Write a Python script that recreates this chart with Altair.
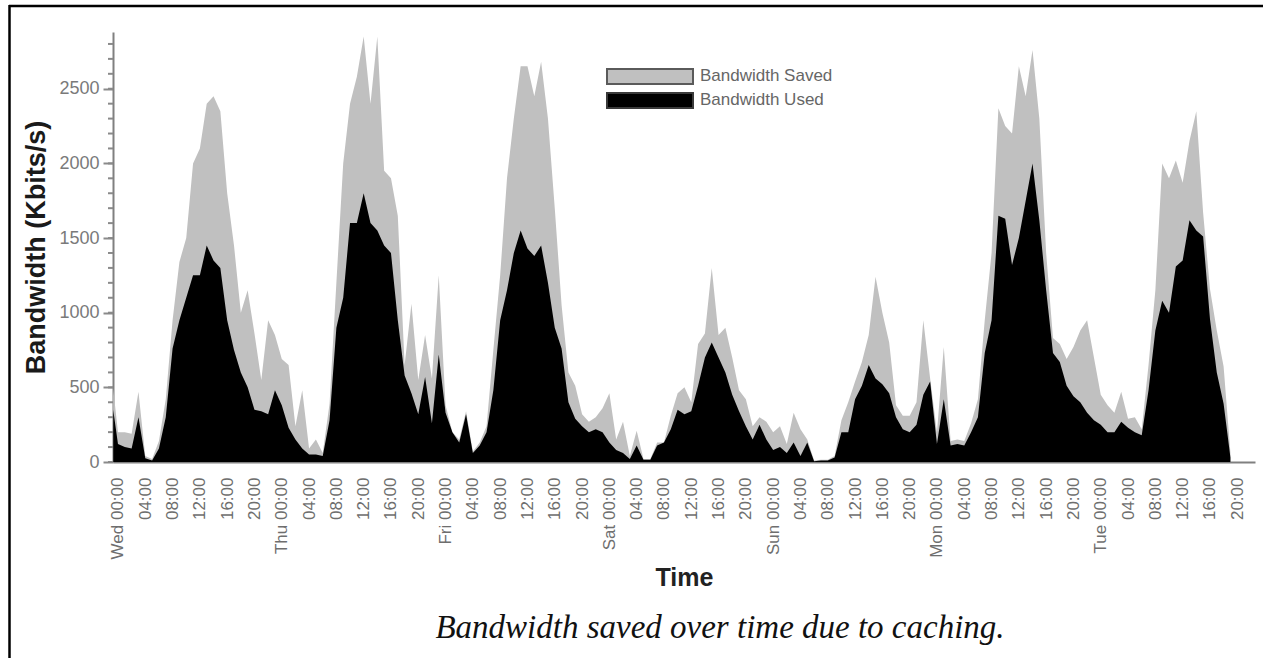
import json
import pandas as pd
import altair as alt

# ---- data (hours since Wed 00:00, Kbits/s) ----
hours = [-0.7] + list(range(0, 164))

total_kbps = [490,
    200, 200, 190, 470, 40, 20, 140, 420, 950, 1340, 1500, 2000, 2100, 2400, 2450, 2350,
    1800, 1450, 1000, 1150, 860, 550, 950, 850,
    690, 650, 240, 480, 90, 150, 60, 390, 1200, 2000, 2400, 2580, 2850, 2400, 2850, 1950,
    1900, 1650, 650, 1060, 550, 850, 560, 1250,
    380, 200, 150, 340, 70, 130, 240, 750, 1250, 1900, 2300, 2650, 2650, 2450, 2680, 2300,
    1700, 1050, 600, 510, 320, 270, 300, 360,
    460, 150, 270, 40, 210, 20, 20, 130, 130, 310, 460, 500, 400, 790, 860, 1300,
    850, 900, 700, 480, 420, 240, 300, 270,
    200, 240, 120, 330, 220, 150, 10, 15, 15, 40, 280, 400, 540, 670, 850, 1240,
    1000, 800, 380, 310, 310, 400, 950, 560,
    200, 770, 140, 150, 140, 260, 420, 950, 1400, 2370, 2250, 2200, 2650, 2450, 2760, 2300,
    1400, 830, 790, 690, 770, 880, 950, 700,
    450, 380, 330, 470, 290, 300, 220, 650, 1150, 2000, 1900, 2020, 1870, 2150, 2350, 1670,
    1160, 880, 640, 60]

used_kbps = [350,
    120, 100, 90, 300, 25, 10, 90, 300, 760, 950, 1100, 1250, 1250, 1450, 1350, 1300,
    950, 750, 600, 500, 350, 340, 320, 480,
    380, 230, 150, 90, 50, 50, 40, 280, 900, 1100, 1600, 1600, 1800, 1600, 1550, 1450,
    1400, 950, 580, 460, 320, 570, 260, 720,
    330, 200, 130, 320, 60, 110, 200, 480, 950, 1150, 1400, 1550, 1430, 1380, 1450, 1200,
    900, 760, 400, 290, 240, 200, 220, 200,
    130, 80, 60, 20, 110, 15, 15, 110, 130, 220, 350, 320, 340, 510, 700, 800,
    700, 600, 450, 340, 240, 150, 250, 150,
    80, 100, 60, 130, 40, 130, 5, 10, 10, 30, 200, 200, 420, 510, 650, 560,
    520, 460, 300, 220, 200, 250, 450, 540,
    120, 420, 110, 120, 110, 200, 300, 730, 950, 1650, 1630, 1320, 1500, 1750, 2000, 1620,
    1150, 730, 670, 510, 440, 400, 330, 280,
    250, 200, 200, 270, 230, 200, 180, 480, 880, 1080, 1000, 1310, 1350, 1620, 1550, 1510,
    960, 600, 390, 30]

tick_hours = list(range(0, 165, 4))
tick_labels = [
    "Wed 00:00", "04:00", "08:00", "12:00", "16:00", "20:00",
    "Thu 00:00", "04:00", "08:00", "12:00", "16:00", "20:00",
    "Fri 00:00", "04:00", "08:00", "12:00", "16:00", "20:00",
    "Sat 00:00", "04:00", "08:00", "12:00", "16:00", "20:00",
    "Sun 00:00", "04:00", "08:00", "12:00", "16:00", "20:00",
    "Mon 00:00", "04:00", "08:00", "12:00", "16:00", "20:00",
    "Tue 00:00", "04:00", "08:00", "12:00", "16:00", "20:00",
]
y_major = [0, 500, 1000, 1500, 2000, 2500]
y_minor = list(range(0, 2900, 100))

legend_labels = ["Bandwidth Saved", "Bandwidth Used"]
caption = "Bandwidth saved over time due to caching."

# ---- tables ----
df = pd.DataFrame({"hour": hours, "total": total_kbps, "used": used_kbps})
minor_df = pd.DataFrame({"v": y_minor})
one = pd.DataFrame({"k": [0]})

W, H = 1142, 430
x_scale = alt.Scale(domain=[-0.73, 166.6], nice=False, zero=False)
y_scale = alt.Scale(domain=[0, 2880], nice=False)

x_axis = alt.Axis(
    values=tick_hours,
    labelExpr=f"{json.dumps(tick_labels)}[round(datum.value/4)]",
    labelAngle=270, labelFontSize=17, labelFont="Liberation Sans",
    labelColor="#6e6e6e", labelPadding=15, labelOverlap=False, labelFlush=False,
    ticks=False, grid=False, domainColor="#808080", domainWidth=2,
    title="Time", titleFontSize=25, titleFont="Liberation Sans",
    titleFontWeight="bold", titleColor="#222", titlePadding=7,
)
y_axis = alt.Axis(
    values=y_major, format="d", tickSize=10, tickColor="#8a8a8a", tickWidth=2,
    labelFontSize=18, labelFont="Liberation Sans", labelColor="#7a7a7a", labelPadding=4,
    grid=False, domainColor="#808080", domainWidth=2,
    title="Bandwidth (Kbits/s)", titleFontSize=27, titleFont="Liberation Sans",
    titleFontWeight="bold", titleColor="#1a1a1a", titlePadding=8,
)

base = alt.Chart(df)
saved_area = base.mark_area(color="#c0c0c0", interpolate="linear").encode(
    x=alt.X("hour:Q", scale=x_scale, axis=x_axis),
    y=alt.Y("total:Q", scale=y_scale, axis=y_axis),
)
used_area = base.mark_area(color="#000000", interpolate="linear").encode(
    x=alt.X("hour:Q", scale=x_scale, axis=x_axis),
    y=alt.Y("used:Q", scale=y_scale, axis=y_axis),
)
minor_ticks = alt.Chart(minor_df).mark_rule(color="#8a8a8a", strokeWidth=2).encode(
    y=alt.Y("v:Q", scale=y_scale, axis=y_axis),
    x=alt.value(-5), x2=alt.value(0),
)

# legend (drawn as marks)
leg_saved = alt.Chart(one).mark_rect(fill="#c0c0c0", stroke="#5a5a5a", strokeWidth=2).encode(
    x=alt.value(494), x2=alt.value(580), y=alt.value(37), y2=alt.value(52))
leg_used = alt.Chart(one).mark_rect(fill="#000000", stroke="#3a3a3a", strokeWidth=2).encode(
    x=alt.value(494), x2=alt.value(580), y=alt.value(61), y2=alt.value(76))
leg_text1 = alt.Chart(one).mark_text(
    text=legend_labels[0], align="left", baseline="middle", fontSize=17,
    font="Liberation Sans", color="#666").encode(x=alt.value(587), y=alt.value(44))
leg_text2 = alt.Chart(one).mark_text(
    text=legend_labels[1], align="left", baseline="middle", fontSize=17,
    font="Liberation Sans", color="#666").encode(x=alt.value(587), y=alt.value(68))

cap = alt.Chart(one).mark_text(
    text=caption, align="center", baseline="alphabetic", fontSize=33,
    font="Liberation Serif", fontStyle="italic", color="#111").encode(
    x=alt.value(607), y=alt.value(606))

# page frame
frame_top = alt.Chart(one).mark_rule(color="#000", strokeWidth=2.5).encode(
    x=alt.value(-104), x2=alt.value(1150), y=alt.value(-26))
frame_left = alt.Chart(one).mark_rule(color="#000", strokeWidth=2.5).encode(
    x=alt.value(-103.5), y=alt.value(-27), y2=alt.value(626))

chart = alt.layer(
    saved_area, used_area, minor_ticks, leg_saved, leg_used, leg_text1, leg_text2,
    cap, frame_top, frame_left,
).properties(
    width=W, height=H,
    autosize=alt.AutoSizeParams(type="none"),
    padding={"left": 113, "top": 32, "right": 8, "bottom": 196},
    background="white",
).configure_view(stroke=None)

chart.save("out.html", embed_options={"renderer": "svg", "actions": False})
